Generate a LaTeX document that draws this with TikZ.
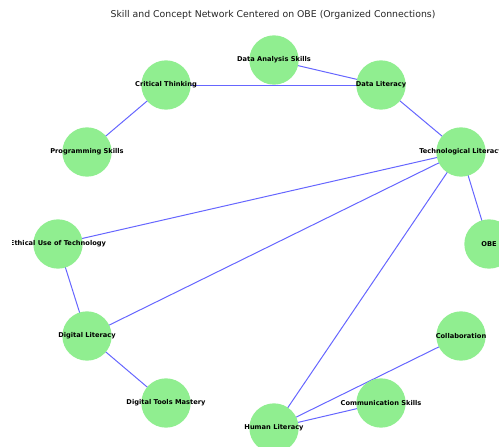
\documentclass[tikz,border=0pt]{standalone}
\usepackage{fontspec}
\setmainfont{DejaVu Sans}
\usepackage{tikz}
\usetikzlibrary{backgrounds}

\definecolor{skillgreen}{RGB}{144,238,144}
\tikzset{
  skill/.style={circle, fill=skillgreen, minimum size=37, inner sep=0pt},
  skilltext/.style={font=\fontsize{5}{6}\selectfont\bfseries, inner sep=0pt},
  link/.style={draw=blue, draw opacity=0.6, line width=0.75}
}

\begin{document}
\begin{tikzpicture}[x=0.75pt,y=0.75pt,yscale=-1,xscale=1]
        \useasboundingbox (0,0) rectangle (499,446);
        \clip (12,0) rectangle (499,446);

        % Title
        \node (title) at (273,15) {\fontsize{7}{8}\selectfont\color{black!85}Skill and Concept Network Centered on OBE (Organized Connections)};

        % Skill nodes
        \node [skill, label={[skilltext]center:Data Analysis Skills}] (das) at (274,60) {};
        \node [skill, label={[skilltext]center:Critical Thinking}] (ct) at (166,85) {};
        \node [skill, label={[skilltext]center:Data Literacy}] (dl) at (381,85) {};
        \node [skill, label={[skilltext]center:Programming Skills}] (ps) at (87,152) {};
        \node [skill, label={[skilltext]center:Technological Literacy}] (tl) at (461,152) {};
        \node [skill, label={[skilltext]center:OBE}] (obe) at (489,244) {};
        \node [skill, label={[skilltext]center:Ethical Use of Technology}] (eu) at (58,244) {};
        \node [skill, label={[skilltext]center:Digital Literacy}] (dig) at (87,336) {};
        \node [skill, label={[skilltext]center:Collaboration}] (col) at (461,336) {};
        \node [skill, label={[skilltext]center:Digital Tools Mastery}] (dtm) at (166,403) {};
        \node [skill, label={[skilltext]center:Communication Skills}] (cs) at (381,403) {};
        \node [skill, label={[skilltext]center:Human Literacy}] (hl) at (274,428) {};

        % Connections
        \begin{pgfonlayer}{background}
        \draw [link] (das.center) -- (dl.center);
        \draw [link] (ct.center) -- (dl.center);
        \draw [link] (ct.center) -- (ps.center);
        \draw [link] (dl.center) -- (tl.center);
        \draw [link] (tl.center) -- (eu.center);
        \draw [link] (tl.center) -- (dig.center);
        \draw [link] (tl.center) -- (hl.center);
        \draw [link] (tl.center) -- (obe.center);
        \draw [link] (eu.center) -- (dig.center);
        \draw [link] (dig.center) -- (dtm.center);
        \draw [link] (hl.center) -- (cs.center);
        \draw [link] (hl.center) -- (col.center);
        \end{pgfonlayer}
\end{tikzpicture}
\end{document}
